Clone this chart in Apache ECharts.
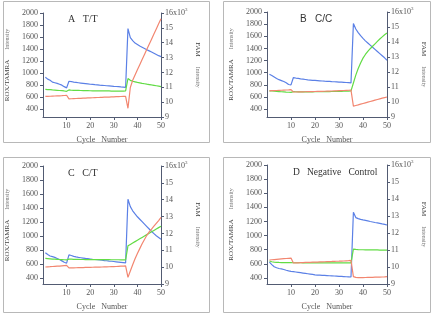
<!DOCTYPE html>
<html>
<head>
<meta charset="utf-8">
<script src="https://cdn.jsdelivr.net/npm/echarts@6/dist/echarts.min.js"></script>
<style>
  html, body { margin: 0; padding: 0; background: #fff; }
  #chart-container { width: 440px; height: 315px; }
</style>
</head>
<body>
<div id="chart-container"></div>
<script>
var dom = document.getElementById("chart-container");
var myChart = echarts.init(dom, null, { renderer: "canvas" });

var cycles = [];
for (var i = 1; i <= 50; i++) cycles.push(i);

var panelTitles = ["A   T/T", "B   C/C", "C   C/T", "D   Negative   Control"];
var leftTicks = [400, 600, 800, 1000, 1200, 1400, 1600, 1800, 2000];
var cycleTicks = [10, 20, 30, 40, 50];

// panel A  T/T
var blueA = [930, 900, 880, 850, 840, 830, 815, 800, 775, 755,
  865, 860, 850, 845, 840, 835, 830, 825, 820, 815,
  812, 808, 805, 800, 797, 794, 790, 787, 784, 780,
  777, 774, 770, 767, 762, 1740, 1590, 1540, 1500, 1475,
  1450, 1430, 1410, 1390, 1370, 1350, 1330, 1310, 1290, 1275];
var greenA = [730, 727, 724, 720, 717, 714, 711, 708, 703, 697,
  720, 715, 714, 713, 712, 711, 710, 709, 708, 707,
  706, 706, 705, 705, 704, 704, 703, 703, 702, 702,
  701, 701, 700, 700, 705, 910, 880, 865, 855, 845,
  838, 830, 823, 816, 810, 803, 797, 790, 783, 775];
var redA = [612, 613, 615, 617, 619, 621, 623, 625, 628, 632,
  572, 574, 576, 578, 580, 581, 583, 585, 587, 588,
  590, 592, 594, 595, 597, 599, 601, 602, 604, 606,
  608, 609, 611, 613, 615, 415, 760, 880, 970, 1055,
  1140, 1225, 1310, 1395, 1480, 1565, 1650, 1735, 1820, 1905];

// panel B  C/C
var blueB = [975, 955, 930, 905, 885, 870, 855, 835, 805, 800,
  920, 912, 905, 898, 893, 888, 883, 879, 875, 872,
  869, 866, 863, 860, 858, 856, 853, 851, 849, 846,
  844, 841, 838, 835, 832, 1810, 1720, 1660, 1610, 1565,
  1525, 1490, 1455, 1420, 1385, 1350, 1315, 1280, 1245, 1205];
var greenB = [700, 698, 695, 692, 689, 686, 683, 680, 678, 676,
  688, 686, 685, 684, 684, 684, 684, 685, 685, 686,
  686, 687, 687, 688, 688, 689, 690, 690, 691, 692,
  693, 694, 695, 697, 700, 830, 960, 1070, 1160, 1240,
  1300, 1350, 1395, 1435, 1475, 1515, 1555, 1590, 1625, 1655];
var redB = [700, 703, 705, 707, 709, 711, 713, 715, 717, 720,
  682, 682, 683, 684, 685, 686, 687, 688, 689, 690,
  691, 692, 693, 694, 696, 697, 698, 700, 701, 703,
  705, 707, 709, 711, 713, 450, 460, 470, 481, 492,
  503, 514, 525, 536, 547, 558, 569, 580, 590, 600];

// panel C  C/T
var blueC = [760, 735, 715, 705, 695, 680, 665, 645, 625, 612,
  730, 722, 710, 702, 695, 690, 685, 680, 676, 672,
  668, 665, 661, 658, 654, 650, 647, 643, 640, 636,
  632, 628, 624, 620, 616, 1525, 1420, 1360, 1315, 1275,
  1240, 1205, 1170, 1135, 1100, 1065, 1035, 1005, 980, 955];
var greenC = [680, 677, 674, 671, 669, 667, 665, 663, 661, 660,
  670, 669, 668, 667, 666, 665, 665, 664, 664, 664,
  663, 663, 663, 663, 662, 662, 662, 662, 661, 661,
  661, 661, 660, 660, 660, 860, 880, 900, 920, 940,
  960, 980, 1000, 1020, 1040, 1060, 1080, 1100, 1120, 1140];
var redC = [558, 560, 562, 565, 567, 569, 571, 574, 577, 580,
  545, 545, 546, 547, 548, 549, 550, 551, 552, 553,
  554, 555, 556, 557, 558, 559, 560, 561, 562, 563,
  565, 567, 569, 571, 573, 410, 500, 590, 675, 750,
  820, 890, 950, 1010, 1060, 1100, 1140, 1180, 1220, 1265];

// panel D  negative control
var blueD = [625, 590, 560, 545, 535, 528, 520, 510, 502, 495,
  490, 485, 480, 475, 470, 465, 460, 455, 450, 445,
  442, 440, 438, 436, 434, 432, 430, 428, 426, 424,
  422, 420, 418, 416, 414, 1330, 1255, 1240, 1230, 1222,
  1215, 1208, 1200, 1193, 1186, 1180, 1173, 1166, 1160, 1150];
var greenD = [640, 630, 625, 622, 620, 619, 618, 618, 617, 617,
  616, 616, 616, 616, 615, 615, 615, 615, 615, 615,
  615, 615, 615, 615, 615, 615, 615, 615, 615, 615,
  615, 615, 615, 615, 615, 810, 805, 802, 800, 800,
  799, 799, 798, 798, 797, 797, 796, 796, 795, 795];
var redD = [655, 658, 661, 664, 667, 670, 673, 676, 679, 682,
  612, 614, 615, 617, 618, 620, 621, 622, 624, 625,
  626, 628, 629, 630, 632, 633, 634, 636, 637, 638,
  640, 641, 643, 645, 650, 420, 408, 405, 405, 406,
  407, 408, 409, 410, 411, 412, 413, 414, 416, 420];

var panels = [
  { blue: blueA, green: greenA, red: redA, grid: { left: 42, top: 13, width: 119, height: 104 }, yMin: 270, title: [63, 9], font: "Liberation Serif" },
  { blue: blueB, green: greenB, red: redB, grid: { left: 267, top: 12, width: 120, height: 105 }, yMin: 270, title: [295, 9], font: "Liberation Sans" },
  { blue: blueC, green: greenC, red: redC, grid: { left: 42, top: 166, width: 119, height: 118 }, yMin: 315, title: [63, 163], font: "Liberation Serif" },
  { blue: blueD, green: greenD, red: redD, grid: { left: 267, top: 165, width: 120, height: 119 }, yMin: 315, title: [288, 162], font: "Liberation Serif" }
];

var axisColor = "#525b72";
var labelColor = "#555";
var serif = "Liberation Serif";

function pairs(arr) {
  return arr.map(function (v, i) { return [cycles[i], v]; });
}

var grids = [], xAxes = [], yAxes = [], series = [], titles = [];

panels.forEach(function (p, k) {
  grids.push(p.grid);
  titles.push({
    text: panelTitles[k],
    left: p.title[0],
    top: p.title[1],
    textStyle: { fontSize: k === 3 ? 9.5 : 10, fontWeight: "normal", fontFamily: p.font, color: "#333" }
  });
  xAxes.push({
    type: "value", gridIndex: k, min: 0, max: 50,
    name: "Cycle   Number", nameLocation: "middle", nameGap: 19,
    nameTextStyle: { fontSize: 8, fontFamily: serif, color: labelColor },
    axisLine: { lineStyle: { color: axisColor, width: 1 } },
    axisTick: { customValues: cycleTicks, length: 3, lineStyle: { color: axisColor } },
    axisLabel: { customValues: cycleTicks, fontSize: 8, fontFamily: serif, color: labelColor, margin: 5 },
    splitLine: { show: false }
  });
  yAxes.push({
    type: "value", gridIndex: k, position: "left", min: p.yMin, max: 2000,
    name: "{a|ROX/TAMRA}   {b|Intensity}", nameLocation: "middle", nameGap: 30, nameRotate: 90,
    nameTextStyle: {
      rich: {
        a: { fontSize: 7, fontFamily: serif, color: "#444" },
        b: { fontSize: 6, fontFamily: serif, color: "#777" }
      }
    },
    axisLine: { show: true, lineStyle: { color: axisColor, width: 1 } },
    axisTick: { show: true, customValues: leftTicks, length: 3, lineStyle: { color: axisColor } },
    axisLabel: {
      customValues: leftTicks, fontSize: 8, fontFamily: serif, color: labelColor, margin: 5,
      formatter: function (v) { return String(v); }
    },
    splitLine: { show: false }
  });
  yAxes.push({
    type: "value", gridIndex: k, position: "right", min: 9, max: 16, interval: 1,
    name: "{a|FAM}   {b|Intensity}", nameLocation: "middle", nameGap: 26, nameRotate: -90,
    nameTextStyle: {
      rich: {
        a: { fontSize: 7, fontFamily: serif, color: "#444" },
        b: { fontSize: 6, fontFamily: serif, color: "#777" }
      }
    },
    axisLine: { show: true, lineStyle: { color: axisColor, width: 1 } },
    axisTick: { show: true, length: 3, lineStyle: { color: axisColor } },
    axisLabel: {
      fontSize: 8, fontFamily: serif, color: labelColor, margin: 4,
      formatter: function (v) { return v === 16 ? "16x10{s|3}" : String(v); },
      rich: { s: { fontSize: 5, fontFamily: serif, color: labelColor, verticalAlign: "bottom", padding: [0, 0, 6, 0] } }
    },
    splitLine: { show: false }
  });
  var lines = [[p.blue, "#5b80e6"], [p.green, "#62dc45"], [p.red, "#f28670"]];
  lines.forEach(function (l) {
    series.push({
      type: "line", xAxisIndex: k, yAxisIndex: k * 2,
      data: pairs(l[0]), showSymbol: false, silent: true,
      lineStyle: { color: l[1], width: 1.2 }
    });
  });
});

var option = {
  animation: false,
  title: titles,
  grid: grids,
  xAxis: xAxes,
  yAxis: yAxes,
  series: series,
  graphic: [
    { type: "rect", shape: { x: 3.5, y: 1.5, width: 206, height: 141 }, style: { fill: null, stroke: "#b8b8b8", lineWidth: 1 } },
    { type: "rect", shape: { x: 223.5, y: 1.5, width: 207, height: 141 }, style: { fill: null, stroke: "#b8b8b8", lineWidth: 1 } },
    { type: "rect", shape: { x: 3.5, y: 157.5, width: 206, height: 155 }, style: { fill: null, stroke: "#b8b8b8", lineWidth: 1 } },
    { type: "rect", shape: { x: 223.5, y: 157.5, width: 207, height: 155 }, style: { fill: null, stroke: "#b8b8b8", lineWidth: 1 } }
  ]
};

myChart.setOption(option);

window.addEventListener("resize", function () {
  myChart.resize();
});
</script>
</body>
</html>
